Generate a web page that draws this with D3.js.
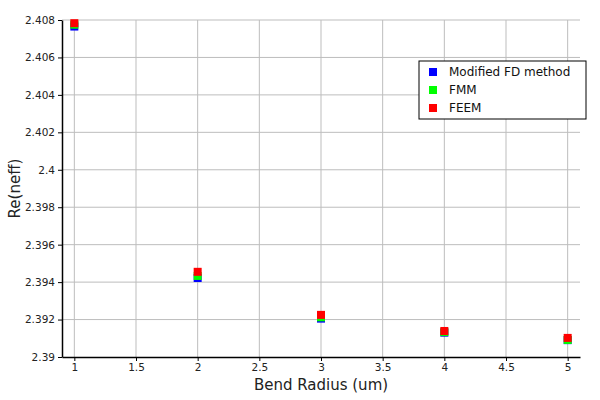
<!DOCTYPE html>
<html>
<head>
<meta charset="utf-8">
<script src="https://cdn.jsdelivr.net/npm/d3@7"></script>
<style>
  body { margin: 0; background: #fff; }
  text { font-family: "DejaVu Sans", sans-serif; }
</style>
</head>
<body>
<svg width="600" height="400"></svg>
<script>
const radius = [1, 2, 3, 4, 5];
const fdMethod = [2.40765, 2.39422, 2.39205, 2.3913, 2.3909];
const fmm = [2.40775, 2.39433, 2.39212, 2.39133, 2.39091];
const feem = [2.40783, 2.39455, 2.39225, 2.39139, 2.39102];
const xTicks = [1, 1.5, 2, 2.5, 3, 3.5, 4, 4.5, 5];
const yTicks = [2.39, 2.392, 2.394, 2.396, 2.398, 2.4, 2.402, 2.404, 2.406, 2.408];

const series = [
  { name: "Modified FD method", color: "#0000ff", values: fdMethod },
  { name: "FMM", color: "#00ff00", values: fmm },
  { name: "FEEM", color: "#ff0000", values: feem }
];

const margin = { top: 20, right: 20, bottom: 43, left: 62 };
const width = 600, height = 400;

const svg = d3.select("svg");

const x = d3.scaleLinear()
    .domain([0.9, 5.1])
    .range([margin.left, width - margin.right]);

const y = d3.scaleLinear()
    .domain([2.39, 2.408])
    .range([height - margin.bottom, margin.top]);

// grid
svg.append("g")
    .selectAll("line")
    .data(xTicks)
    .enter().append("line")
    .attr("x1", d => x(d)).attr("x2", d => x(d))
    .attr("y1", y(2.39)).attr("y2", y(2.408))
    .attr("stroke", "#bdbdbd");

svg.append("g")
    .selectAll("line")
    .data(yTicks.slice(1))
    .enter().append("line")
    .attr("x1", x(0.9)).attr("x2", x(5.1))
    .attr("y1", d => y(d)).attr("y2", d => y(d))
    .attr("stroke", "#bdbdbd");

// axes
const xAxis = svg.append("g")
    .attr("transform", `translate(0,${height - margin.bottom})`)
    .call(d3.axisBottom(x).tickValues(xTicks).tickSize(4).tickSizeOuter(0)
        .tickFormat(d3.format("~g")));

const yAxis = svg.append("g")
    .attr("transform", `translate(${margin.left},0)`)
    .call(d3.axisLeft(y).tickValues(yTicks).tickSize(4).tickSizeOuter(0)
        .tickFormat(d3.format("~g")));

[xAxis, yAxis].forEach(a => {
  a.select(".domain").attr("stroke", "#000").attr("stroke-width", 1.5);
  a.selectAll(".tick line").attr("stroke", "#000");
  a.selectAll(".tick text")
      .attr("fill", "#222")
      .style("font-size", "10.5px")
      .style("font-family", "'DejaVu Sans', sans-serif");
});

svg.append("text")
    .attr("x", (x(0.9) + x(5.1)) / 2)
    .attr("y", 390)
    .attr("text-anchor", "middle")
    .style("font-size", "15px")
    .attr("fill", "#222")
    .text("Bend Radius (um)");

svg.append("text")
    .attr("transform", `translate(20,${(y(2.39) + y(2.408)) / 2}) rotate(-90)`)
    .attr("text-anchor", "middle")
    .style("font-size", "15px")
    .attr("fill", "#222")
    .text("Re(neff)");

// markers
const size = 8;
series.forEach(s => {
  svg.append("g")
      .selectAll("rect")
      .data(s.values.map((v, i) => [radius[i], v]))
      .enter().append("rect")
      .attr("x", d => x(d[0]) - size / 2)
      .attr("y", d => y(d[1]) - size / 2)
      .attr("width", size)
      .attr("height", size)
      .attr("fill", s.color);
});

// legend
const legend = svg.append("g").attr("transform", "translate(419,61)");
legend.append("rect")
    .attr("width", 167).attr("height", 58)
    .attr("fill", "#fff").attr("stroke", "#000");

const item = legend.selectAll("g.item")
    .data(series)
    .enter().append("g")
    .attr("class", "item")
    .attr("transform", (d, i) => `translate(0,${11 + i * 18})`);

item.append("rect")
    .attr("x", 10).attr("y", -4)
    .attr("width", 8).attr("height", 8)
    .attr("fill", d => d.color);

item.append("text")
    .attr("x", 30).attr("dy", "0.35em")
    .style("font-size", "12px")
    .attr("fill", "#111")
    .text(d => d.name);
</script>
</body>
</html>
